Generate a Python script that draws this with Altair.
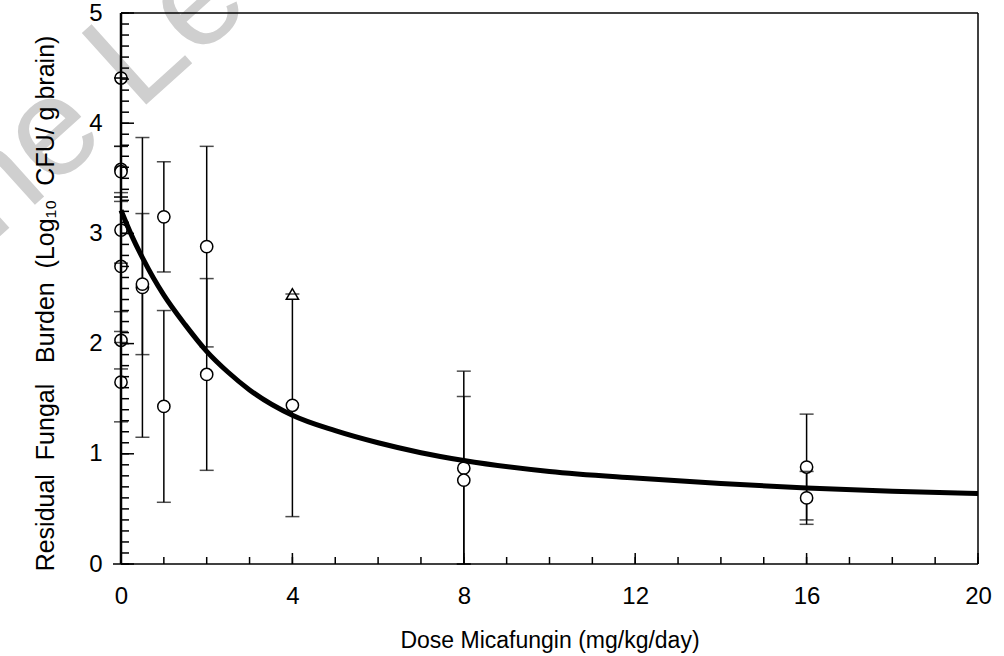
import altair as alt
import numpy as np
import pandas as pd

# Plot-area size in pixels
W, H = 857, 551
FONT = "Liberation Sans"
NB = "\u00a0"

# Observed residual burden per group (mean and SD), log10 CFU/g brain
dose = [0, 0, 0, 0, 0, 0, 0, 0.5, 0.5, 1, 1, 2, 2, 4, 8, 8, 16, 16]
burden = [4.41, 3.58, 3.56, 3.03, 2.70, 2.03, 1.65, 2.51, 2.54, 3.15, 1.43,
          2.88, 1.72, 1.44, 0.87, 0.76, 0.88, 0.60]
sd = [0.0, 0.21, 0.23, 0.30, 0.59, 0.26, 0.36, 1.36, 0.64, 0.50, 0.87,
      0.91, 0.87, 1.01, 0.88, 0.76, 0.48, 0.24]

# Single group plotted with a triangle symbol
tri_dose = [4]
tri_burden = [2.45]

# Fitted dose-response curve
fit_dose = [0, 0.25, 0.5, 0.75, 1, 1.5, 2, 2.5, 3, 4, 5, 6, 7, 8, 10, 12, 14, 16, 18, 20]
fit_burden = [3.21, 2.98, 2.78, 2.60, 2.44, 2.17, 1.93, 1.74, 1.58, 1.35, 1.21,
              1.10, 1.01, 0.94, 0.84, 0.78, 0.73, 0.69, 0.66, 0.64]

# Axis tick labels
x_labels = [0, 4, 8, 12, 16, 20]
y_labels = [0, 1, 2, 3, 4, 5]
x_minor = list(range(0, 21))
y_minor = [round(v, 1) for v in np.arange(0, 5.01, 0.1)]

y_title = (f"Residual{NB}{NB}Fungal{NB}{NB}{NB}Burden{NB}{NB}"
           f"(Log\u2081\u2080{NB}{NB}CFU/{NB}g{NB}brain)")

# Diagonal background watermark
watermark = ["Online Learning"]

pts = pd.DataFrame({"x": dose, "y": burden, "sd": sd})
pts["lo"] = (pts["y"] - pts["sd"]).clip(lower=0)
pts["hi"] = pts["y"] + pts["sd"]
caps = pd.concat([
    pd.DataFrame({"x": pts["x"], "y": pts["lo"]}),
    pd.DataFrame({"x": pts["x"], "y": pts["hi"]}),
])
tri = pd.DataFrame({"x": tri_dose, "y": tri_burden})
fit = pd.DataFrame({"x": fit_dose, "y": fit_burden})

xscale = alt.Scale(domain=[0, 20], nice=False, zero=False)
yscale = alt.Scale(domain=[0, 5], nice=False, zero=False)

x_axis = alt.Axis(
    values=x_labels, title="Dose Micafungin (mg/kg/day)", domain=False,
    ticks=False, tickSize=0, grid=False, labelPadding=20, labelFontSize=24,
    labelFont=FONT, labelColor="black", labelFlush=False, titleFont=FONT,
    titleFontSize=23, titleFontWeight="normal", titleColor="black",
    titlePadding=21, zindex=1,
)
y_axis = alt.Axis(
    values=y_labels, title=y_title,
    domain=False, ticks=False, tickSize=0, grid=False, labelPadding=19,
    labelFontSize=24, labelFont=FONT, labelColor="black", labelFlush=False,
    titleFont=FONT, titleFontSize=25, titleFontWeight="normal",
    titleColor="black", titlePadding=30, titleY=290, zindex=1,
)

X = alt.X("x:Q", scale=xscale, axis=x_axis)
Y = alt.Y("y:Q", scale=yscale, axis=y_axis)

mark_bg = alt.Chart(pd.DataFrame({"t": watermark})).mark_text(
    font=FONT, fontSize=140, color="#cfcfcf", align="left",
    baseline="alphabetic", angle=318,
).encode(text="t:N", x=alt.value(-313), y=alt.value(396))

bars = alt.Chart(pts).mark_rule(color="black", strokeWidth=1.5).encode(
    x=X, y=alt.Y("lo:Q", scale=yscale, axis=y_axis), y2="hi:Q"
)
circles = alt.Chart(pts).mark_point(
    shape="circle", filled=True, fill="white", stroke="black",
    strokeWidth=1.5, size=150, opacity=1,
).encode(x=X, y=Y)
triangle = alt.Chart(tri).mark_point(
    shape="triangle-up", filled=True, fill="white", stroke="black",
    strokeWidth=1.5, size=150, opacity=1,
).encode(x=X, y=Y)
cap_marks = alt.Chart(caps).mark_tick(
    color="black", orient="horizontal", size=14, thickness=1.5
).encode(x=X, y=Y)
curve = alt.Chart(fit).mark_line(
    color="black", strokeWidth=5, interpolate="monotone"
).encode(x=X, y=Y)

# Inward-pointing tick marks on the bottom and left axes
xt_minor = alt.Chart(pd.DataFrame({"x": x_minor})).mark_rule(
    color="black", strokeWidth=1.5
).encode(x=X, y=alt.value(H), y2=alt.value(H - 7))
xt_major = alt.Chart(pd.DataFrame({"x": x_labels})).mark_rule(
    color="black", strokeWidth=1.5
).encode(x=X, y=alt.value(H), y2=alt.value(H - 11))
yt_minor = alt.Chart(pd.DataFrame({"y": y_minor})).mark_rule(
    color="black", strokeWidth=1.5
).encode(y=Y, x=alt.value(0), x2=alt.value(8))
yt_major = alt.Chart(pd.DataFrame({"y": y_labels})).mark_rule(
    color="black", strokeWidth=1.5
).encode(y=Y, x=alt.value(0), x2=alt.value(13))

# Frame around the plot area
one = pd.DataFrame({"k": [0]})
left = alt.Chart(one).mark_rule(color="black", strokeWidth=2.5).encode(
    x=alt.value(0), y=alt.value(0), y2=alt.value(H))
bottom = alt.Chart(one).mark_rule(color="black", strokeWidth=1.5).encode(
    x=alt.value(-8), x2=alt.value(W), y=alt.value(H))
top = alt.Chart(one).mark_rule(color="black", strokeWidth=1.5).encode(
    x=alt.value(0), x2=alt.value(W), y=alt.value(0))
right = alt.Chart(one).mark_rule(color="black", strokeWidth=1.5).encode(
    x=alt.value(W), y=alt.value(0), y2=alt.value(H))

chart = alt.layer(
    mark_bg, bars, circles, triangle, cap_marks, curve,
    xt_minor, xt_major, yt_minor, yt_major,
    left, bottom, top, right,
).properties(
    width=W, height=H,
    padding={"left": 121, "top": 13, "right": 26, "bottom": 92},
    autosize="none",
    background="white",
).configure_view(stroke=None)

chart.save("out.html", embed_options={"renderer": "svg", "actions": False})
